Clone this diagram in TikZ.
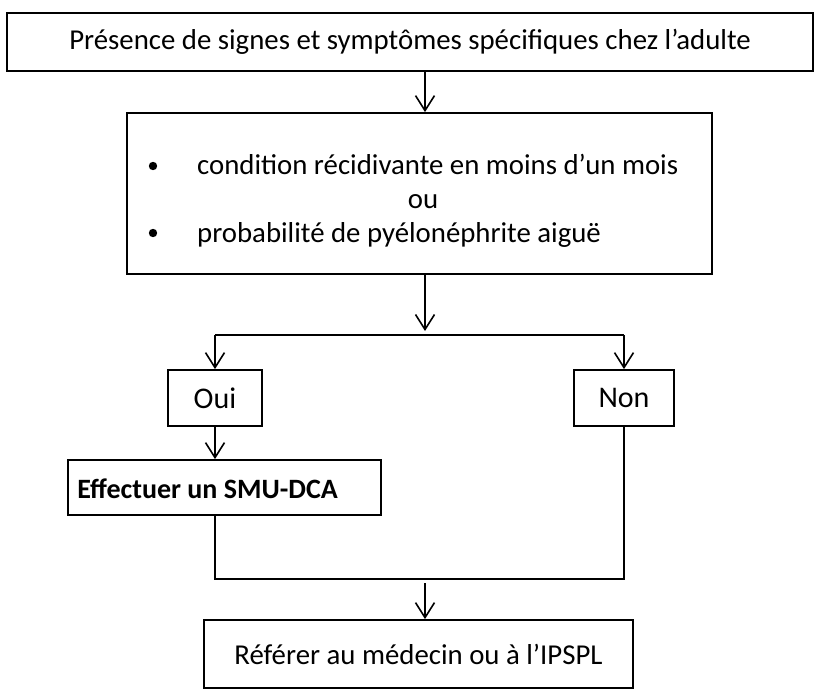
\documentclass[tikz,border=0pt]{standalone}
\usepackage{fontspec}
\setmainfont{Carlito}
\usetikzlibrary{arrows.meta}
\begin{document}
\begin{tikzpicture}[x=1pt,y=-1pt,
  txt/.style={font=\fontsize{28.8}{34}\selectfont},
  box/.style={draw, line width=1.8pt, inner sep=0pt, txt},
  conn/.style={line width=1.8pt},
  arr/.style={line width=1.8pt, -{Straight Barb[length=15pt,width=19pt,line width=1.6pt]}}]
\useasboundingbox (0,0) rectangle (814,690);
\node[box, minimum width=806pt, minimum height=58pt] (top) at (410,42) {Présence de signes et symptômes spécifiques chez l’adulte};
\node[box, minimum width=585pt, minimum height=161pt] (cond) at (419.5,193.5) {};
\node[txt, anchor=base west, inner sep=0pt] (b1) at (197,175) {condition récidivante en moins d’un mois};
\node[txt, anchor=base, inner sep=0pt] (ou) at (423,208) {ou};
\node[txt, anchor=base west, inner sep=0pt] (b2) at (197,242) {probabilité de pyélonéphrite aiguë};
\fill (153,166) circle (4.2pt);
\fill (153,233) circle (4.2pt);
\node[box, font=\fontsize{30}{34}\selectfont, minimum width=94pt, minimum height=56pt] (oui) at (215,398) {Oui};
\node[box, font=\fontsize{30}{34}\selectfont, minimum width=100pt, minimum height=56pt] (non) at (624,398) {Non};
\node[box, minimum width=313pt, minimum height=55pt] (smu) at (224.5,487.5) {};
\node[font=\fontsize{28}{32}\selectfont\bfseries, anchor=base east, inner sep=0pt] (smut) at (338,498) {Effectuer un SMU-DCA};
\node[box, minimum width=429pt, minimum height=68pt] (ref) at (418.5,654) {Référer au médecin ou à l’IPSPL};
\coordinate (ax) at (425,0);
\coordinate (splitend) at (425,331);
\coordinate (sl) at (215,335);
\coordinate (sr) at (624,335);
\coordinate (ml) at (215,579);
\coordinate (mr) at (624,579);
\coordinate (mtop) at (425,583);
\draw[arr] (top.south -| ax) -- (cond.north -| ax);
\draw[arr] (cond.south -| ax) -- (splitend);
\draw[conn] (sl) -- (sr);
\draw[arr] (sl) -- (oui.north);
\draw[arr] (sr) -- (non.north);
\draw[arr] (oui.south) -- (oui.south |- smu.north);
\draw[conn] (oui.south |- smu.south) -- (ml) -- (mr) -- (non.south);
\draw[arr] (mtop) -- (ref.north -| mtop);
\end{tikzpicture}
\end{document}
